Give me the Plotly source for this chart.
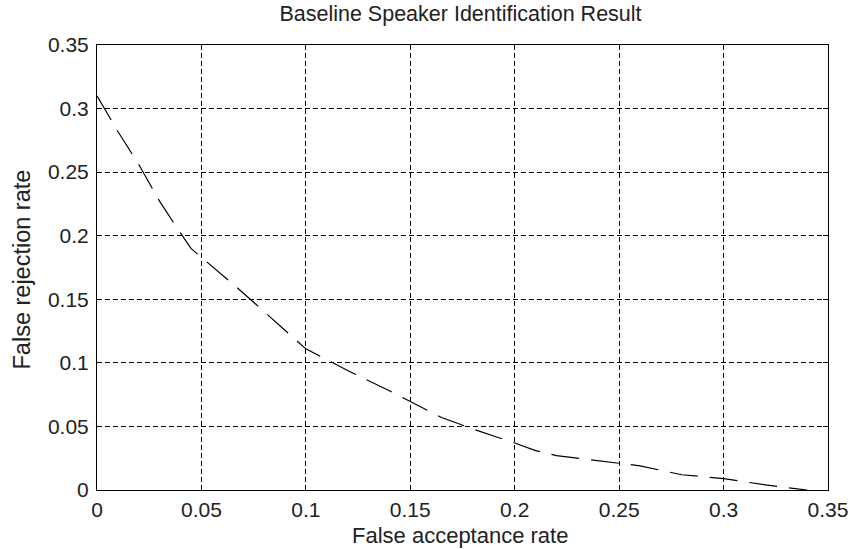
import plotly.graph_objects as go

# Data
far = [0.0, 0.01, 0.02, 0.03, 0.04, 0.045, 0.07, 0.1, 0.12, 0.14, 0.165, 0.18, 0.2, 0.21, 0.22, 0.24, 0.26, 0.28, 0.30, 0.32, 0.34]
frr = [0.31, 0.282, 0.256, 0.227, 0.202, 0.19, 0.155, 0.111, 0.094, 0.078, 0.057, 0.048, 0.037, 0.031, 0.027, 0.023, 0.019, 0.012, 0.009, 0.004, 0.0]

tick_vals = [0, 0.05, 0.1, 0.15, 0.2, 0.25, 0.3, 0.35]
tick_text = ["0", "0.05", "0.1", "0.15", "0.2", "0.25", "0.3", "0.35"]

W, H = 852, 549
L, R, T, B = 97, 24, 45, 59
PW, PH = W - L - R, H - T - B

fig = go.Figure()
fig.add_trace(go.Scatter(
    x=far, y=frr, mode="lines",
    line=dict(color="black", width=1.2, dash="28px,12px"),
    showlegend=False, hoverinfo="skip",
))

font_family = "Liberation Sans, Arial, sans-serif"
axis_common = dict(
    range=[0, 0.35], tickvals=tick_vals, ticktext=tick_text,
    showline=True, linecolor="black", linewidth=1, mirror="ticks",
    ticks="inside", ticklen=5, tickcolor="black", tickwidth=1,
    showgrid=True, gridcolor="black", gridwidth=1, griddash="5px,3px",
    zeroline=False, automargin=False,
    tickfont=dict(family=font_family, size=21, color="#222"),
)

fig.update_layout(
    width=W, height=H,
    margin=dict(l=L, r=R, t=T, b=B),
    paper_bgcolor="white", plot_bgcolor="white",
    title=dict(text="Baseline Speaker Identification Result",
               x=460.5 / W, xanchor="center", y=1 - 13 / H, yanchor="middle",
               font=dict(family=font_family, size=21.5, color="#222")),
    xaxis=dict(**axis_common, ticklabelstandoff=1),
    yaxis=dict(**axis_common, ticklabelstandoff=3),
    annotations=[
        dict(text="False acceptance rate", xref="paper", yref="paper",
             x=(460 - L) / PW, y=(T + PH - 535) / PH, xanchor="center", yanchor="middle",
             showarrow=False, font=dict(family=font_family, size=22, color="#222")),
        dict(text="False rejection rate", xref="paper", yref="paper", textangle=-90,
             x=(21 - L) / PW, y=(T + PH - 269.5) / PH, xanchor="center", yanchor="middle",
             showarrow=False, font=dict(family=font_family, size=23.5, color="#222")),
    ],
)

fig.write_html("out.html")
